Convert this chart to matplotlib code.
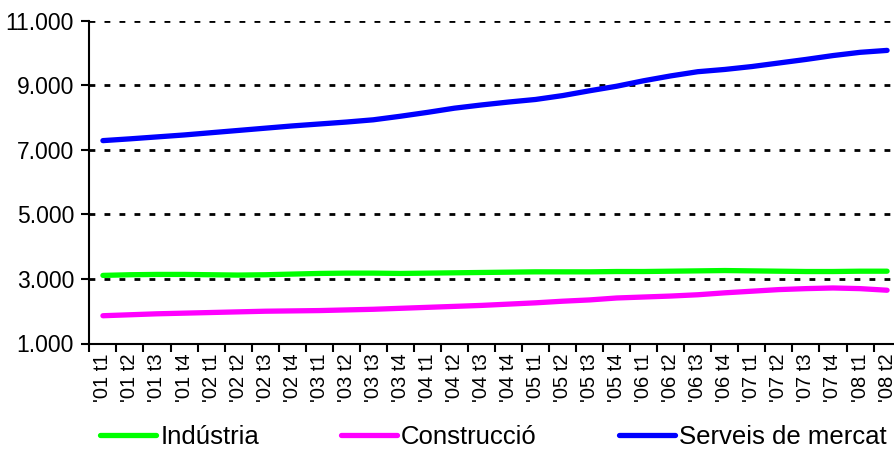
import matplotlib
matplotlib.use('Agg')
import matplotlib.pyplot as plt
from matplotlib.ticker import FuncFormatter

# trimestres '01 t1 ... '08 t2
labels = ["'0%d t%d" % (y, q) for y in range(1, 9) for q in range(1, 5)][:30]

industria = [3110, 3130, 3140, 3140, 3130, 3120, 3130, 3150, 3170, 3180,
             3180, 3170, 3180, 3190, 3200, 3210, 3220, 3220, 3220, 3230,
             3230, 3240, 3250, 3260, 3250, 3240, 3230, 3230, 3240, 3240]
construccio = [1860, 1890, 1920, 1940, 1960, 1980, 2000, 2010, 2020, 2040,
               2060, 2090, 2120, 2150, 2180, 2220, 2260, 2310, 2350, 2410,
               2440, 2470, 2510, 2570, 2620, 2670, 2700, 2720, 2700, 2650]
serveis = [7285, 7340, 7400, 7460, 7530, 7600, 7670, 7740, 7800, 7860,
           7930, 8040, 8160, 8290, 8390, 8480, 8560, 8680, 8830, 8970,
           9140, 9290, 9420, 9490, 9580, 9690, 9800, 9920, 10020, 10080]

yticks = [1000, 3000, 5000, 7000, 9000, 11000]

plt.rcParams['font.family'] = ['Liberation Sans', 'DejaVu Sans']

fig = plt.figure(figsize=(8.95, 4.62), dpi=100)
# l'eix continua una mica més enllà de la vora dreta, com a l'original
ax = fig.add_axes([89.4 / 895, 1 - 343.5 / 462, 811.2 / 895, 322.8 / 462])

x = list(range(len(labels)))
ax.plot(x, industria, color='#00FF00', lw=3.8, solid_capstyle='round', solid_joinstyle='round', label='Indústria')
ax.plot(x, construccio, color='#FF00FF', lw=3.8, solid_capstyle='round', solid_joinstyle='round', label='Construcció')
ax.plot(x, serveis, color='#0000FF', lw=3.8, solid_capstyle='round', solid_joinstyle='round', label='Serveis de mercat')

for v in yticks[1:]:
    ax.axhline(v, color='black', lw=2.0, dashes=(2.1, 3.3), zorder=0)

ax.set_xlim(-0.5, len(labels) - 0.5)
ax.set_ylim(1000, 11000)
ax.set_yticks(yticks)
ax.yaxis.set_major_formatter(FuncFormatter(lambda v, p: f"{int(v):,}".replace(',', '.')))

ax.set_xticks([i - 0.5 for i in range(len(labels))])
ax.set_xticklabels([])
ax.set_xticks(x, minor=True)
ax.set_xticklabels(labels, minor=True, rotation=90)
ax.tick_params(axis='x', which='major', length=6, width=1.5, direction='out')
ax.tick_params(axis='x', which='minor', length=0, pad=7, labelsize=14.5)
ax.tick_params(axis='y', length=6, width=1.5, direction='out', pad=5, labelsize=16.5)

for s in ['top', 'right']:
    ax.spines[s].set_visible(False)
for s in ['left', 'bottom']:
    ax.spines[s].set_linewidth(1.5)

fig.legend(loc='center', bbox_to_anchor=(493.5 / 895, 1 - 437 / 462), ncol=3, frameon=False,
           fontsize=18.5, handlelength=2.18, handletextpad=0.16, columnspacing=3.2,
           borderaxespad=0, borderpad=0)

plt.savefig('out.png', dpi=100)
plt.close()
